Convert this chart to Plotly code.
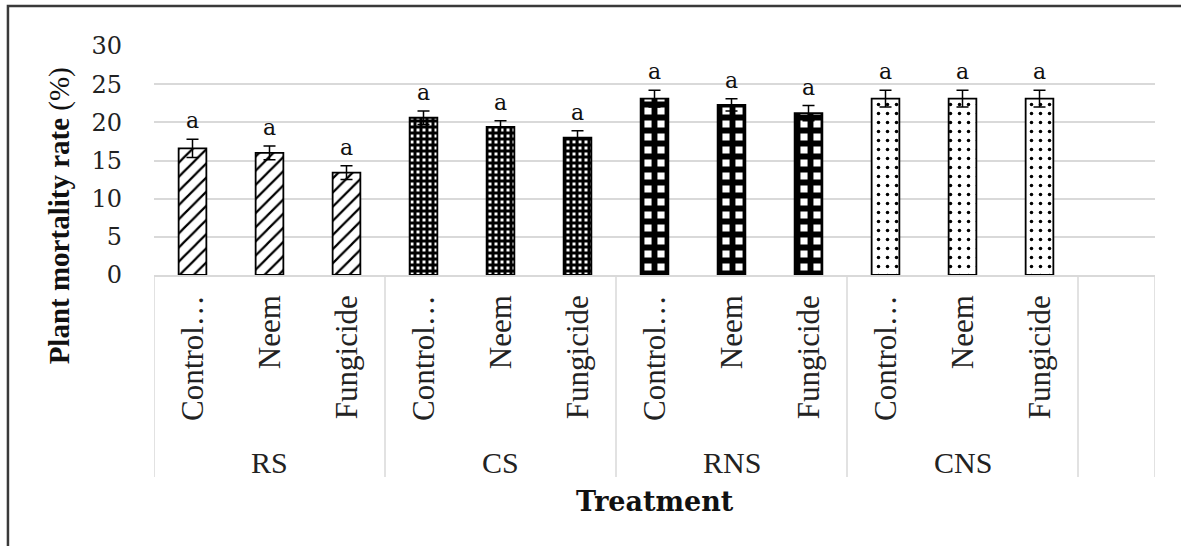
import plotly.graph_objects as go

groups = ["RS", "CS", "RNS", "CNS"]
treatments = ["Control…", "Neem", "Fungicide"]
values = {
    "RS": [16.6, 16.0, 13.4],
    "CS": [20.6, 19.4, 18.0],
    "RNS": [23.1, 22.3, 21.2],
    "CNS": [23.1, 23.1, 23.1],
}
errors = {
    "RS": [1.2, 0.9, 0.9],
    "CS": [0.9, 0.8, 0.9],
    "RNS": [1.1, 0.8, 1.0],
    "CNS": [1.1, 1.1, 1.1],
}
letters = {
    "RS": ["a", "a", "a"],
    "CS": ["a", "a", "a"],
    "RNS": ["a", "a", "a"],
    "CNS": ["a", "a", "a"],
}
y_ticks = [0, 5, 10, 15, 20, 25, 30]

patterns = {
    "RS": dict(shape="/", size=10, solidity=0.22, fgcolor="black", bgcolor="white", fgopacity=1),
    "CS": dict(shape="+", size=6, solidity=0.75, fgcolor="black", bgcolor="white", fgopacity=1),
    "RNS": dict(shape="+", size=13, solidity=0.7, fgcolor="black", bgcolor="white", fgopacity=1),
    "CNS": dict(shape=".", size=9, solidity=0.12, fgcolor="black", bgcolor="white", fgopacity=1),
}

fig = go.Figure()
annotations = []
tickvals, ticktext = [], []
n_t = len(treatments)
for gi, g in enumerate(groups):
    xs = [gi * n_t + ti for ti in range(n_t)]
    tickvals += xs
    ticktext += treatments
    fig.add_trace(go.Bar(
        x=xs, y=values[g], name=g,
        marker=dict(color="white", line=dict(color="black", width=1.8), pattern=patterns[g]),
        error_y=dict(type="data", array=errors[g], color="black", thickness=1.5, width=6),
        showlegend=False, hoverinfo="skip",
    ))
    for x, v, e, l in zip(xs, values[g], errors[g], letters[g]):
        annotations.append(dict(x=x, y=v + e, xref="x", yref="y", text=l, showarrow=False,
                                yanchor="bottom", yshift=4,
                                font=dict(family="DejaVu Serif", size=22, color="#111")))
    annotations.append(dict(x=gi * n_t + (n_t - 1) / 2, y=-0.817, xref="x", yref="paper",
                            text=g, showarrow=False, yanchor="middle",
                            font=dict(family="Liberation Serif", size=30, color="#222")))

n_slots = len(groups) * n_t + 1
annotations.append(dict(x=0.5, y=-0.99, xref="paper", yref="paper", text="<b>Treatment</b>",
                        showarrow=False, yanchor="middle",
                        font=dict(family="DejaVu Serif", size=27, color="#111")))
annotations.append(dict(x=-0.094, y=0.26, xref="paper", yref="paper",
                        text="<b>Plant mortality rate</b> (%)", textangle=-90,
                        showarrow=False, xanchor="center", yanchor="middle",
                        font=dict(family="Liberation Serif", size=29, color="#111")))

shapes = []
seps = [gi * n_t - 0.5 for gi in range(len(groups) + 1)] + [n_slots - 0.5]
for s in seps:
    shapes.append(dict(type="line", xref="x", yref="paper", x0=s, x1=s, y0=0, y1=-0.882,
                       line=dict(color="#d9d9d9", width=1.5)))
shapes.append(dict(type="path", xref="paper", yref="paper",
                   path="M -0.1459,-1.5 L -0.1459,1.1747 L 1.3,1.1747",
                   line=dict(color="#3a3a3a", width=2.5)))

fig.update_layout(
    width=1181, height=546,
    margin=dict(l=154, r=26, t=46, b=271),
    paper_bgcolor="white", plot_bgcolor="white",
    bargap=0.64,
    annotations=annotations, shapes=shapes,
    xaxis=dict(range=[-0.5, n_slots - 0.5], tickmode="array", tickvals=tickvals, ticktext=ticktext,
               tickangle=-90, showgrid=False, zeroline=False, showline=True,
               linecolor="#d9d9d9", linewidth=1.5, ticks="", ticklabelstandoff=6,
               tickfont=dict(family="Liberation Serif", size=31, color="#222")),
    yaxis=dict(range=[0, 30], tickmode="array", tickvals=y_ticks, showgrid=True,
               gridcolor="#d9d9d9", gridwidth=1.5, zeroline=False, showline=False,
               ticks="", ticklabelstandoff=31,
               tickfont=dict(family="DejaVu Serif", size=24, color="#222")),
)

fig.write_html("out.html", config={"displayModeBar": False},
               post_script="document.body.style.margin='0px';")
